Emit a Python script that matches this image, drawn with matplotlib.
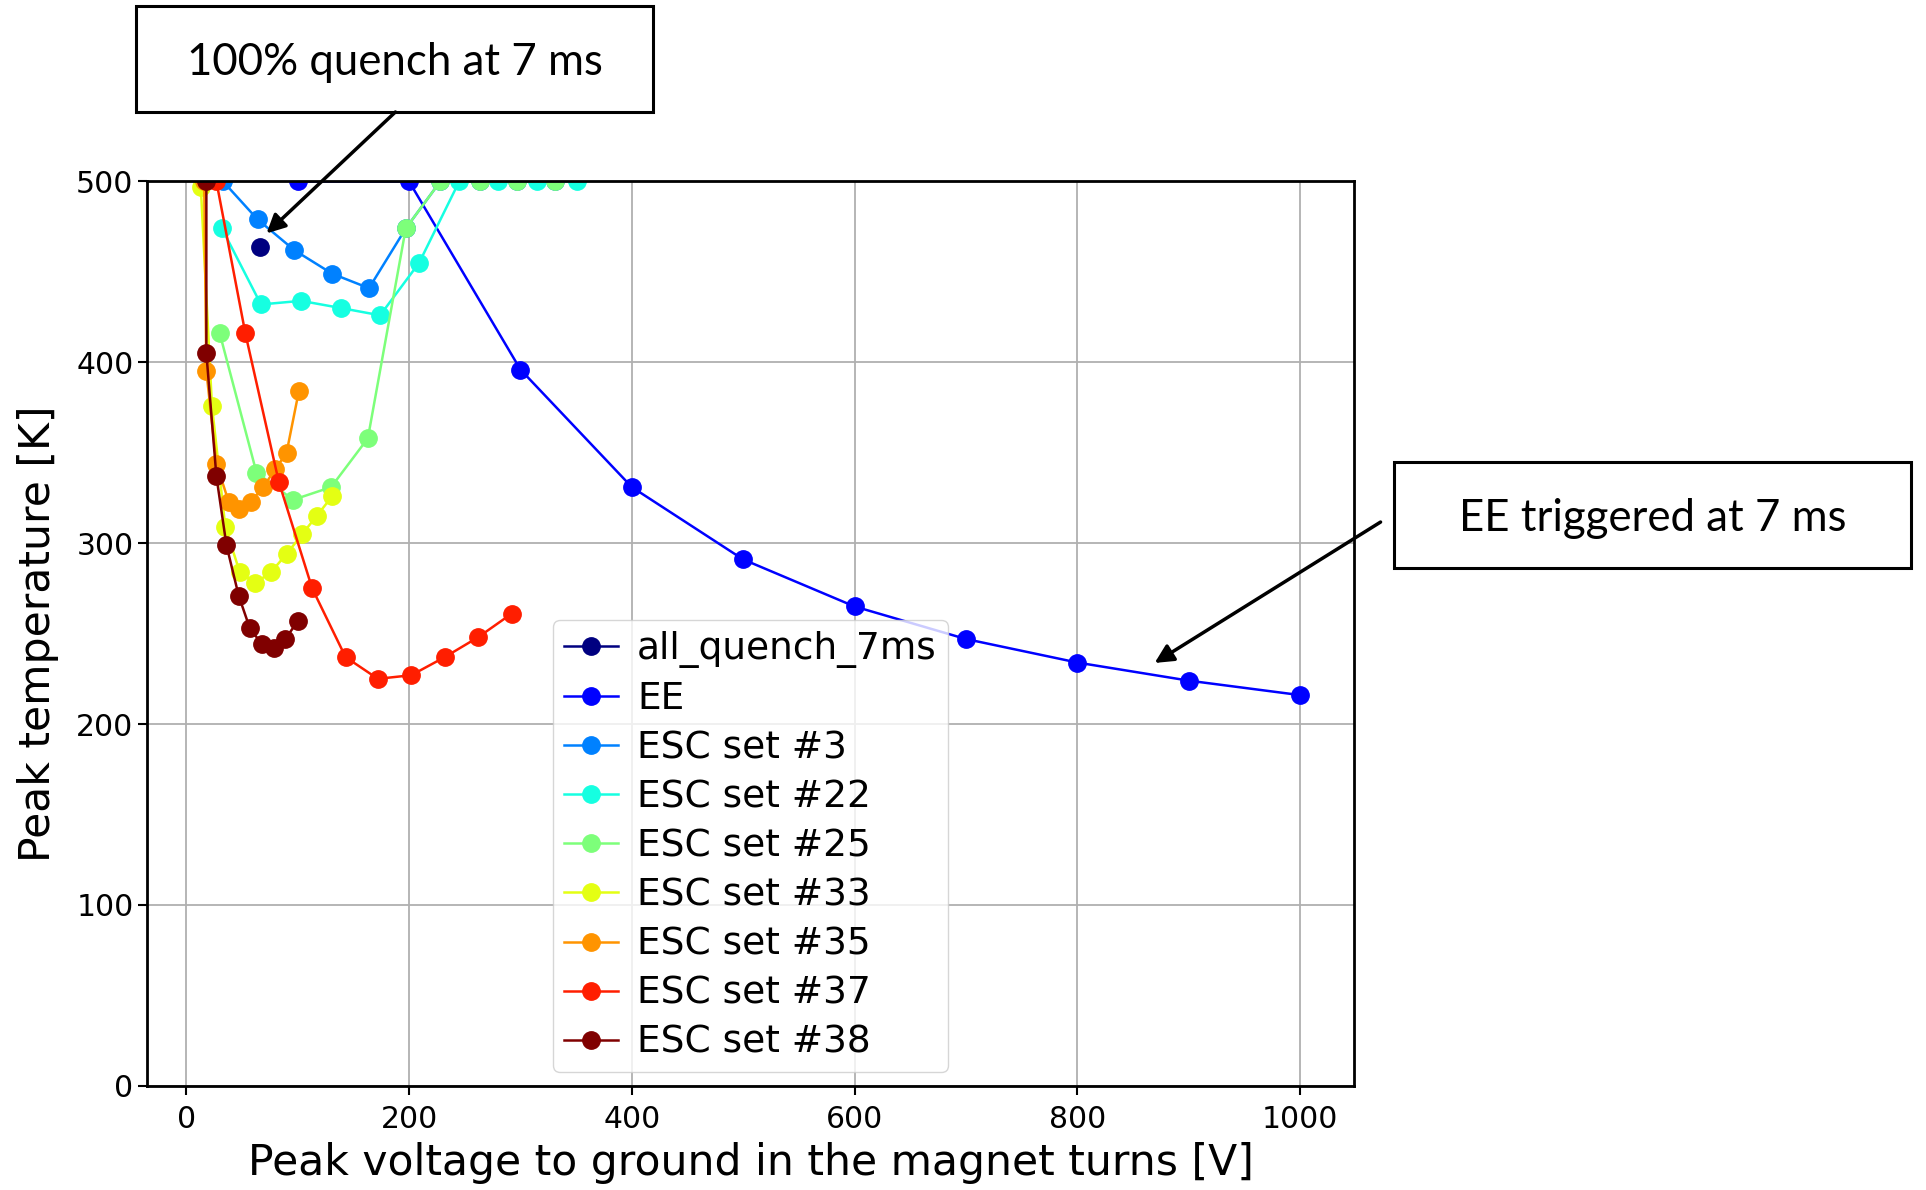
import matplotlib
matplotlib.use('Agg')
import matplotlib.pyplot as plt
import numpy as np
from matplotlib.patches import Rectangle, FancyArrowPatch

# values
quench_x = [66]
quench_y = [464]

ee_x = [100, 200, 300, 400, 500, 600, 700, 800, 900, 1000]
ee_y = [500, 500, 396, 331, 291, 265, 247, 234, 224, 216]

esc3_x = [33, 64, 97, 131, 164, 197, 228, 264, 297, 331]
esc3_y = [500, 479, 462, 449, 441, 474, 500, 500, 500, 500]

esc22_x = [32, 67, 103, 139, 174, 209, 245, 280, 315, 351]
esc22_y = [474, 432, 434, 430, 426, 455, 500, 500, 500, 500]

esc25_x = [30, 63, 96, 130, 163, 197, 228, 264, 297, 331]
esc25_y = [416, 339, 324, 331, 358, 474, 500, 500, 500, 500]

esc33_x = [13, 23, 35, 48, 62, 76, 90, 104, 117, 131]
esc33_y = [497, 376, 309, 284, 278, 284, 294, 305, 315, 326]

esc35_x = [16, 18, 27, 38, 47, 58, 69, 80, 90, 101]
esc35_y = [500, 395, 344, 323, 319, 323, 331, 341, 350, 384]

esc37_x = [27, 53, 83, 113, 143, 172, 202, 232, 262, 292]
esc37_y = [500, 416, 334, 275, 237, 225, 227, 237, 248, 261]

esc38_x = [18, 18, 27, 36, 47, 57, 68, 79, 89, 100]
esc38_y = [500, 405, 337, 299, 271, 253, 244, 242, 247, 257]

labels = ['all_quench_7ms', 'EE', 'ESC set #3', 'ESC set #22', 'ESC set #25',
          'ESC set #33', 'ESC set #35', 'ESC set #37', 'ESC set #38']
xs = [quench_x, ee_x, esc3_x, esc22_x, esc25_x, esc33_x, esc35_x, esc37_x, esc38_x]
ys = [quench_y, ee_y, esc3_y, esc22_y, esc25_y, esc33_y, esc35_y, esc37_y, esc38_y]

colors = plt.cm.jet(np.linspace(0, 1, len(labels)))

fig = plt.figure(figsize=(19.26, 11.9), dpi=100)
ax = fig.add_axes([0.0765, 0.0876, 0.6263, 0.7599])

for x, y, lab, c in zip(xs, ys, labels, colors):
    ax.plot(x, y, '-o', color=c, label=lab, lw=1.8, ms=12.5)

ax.set_xlim(-35, 1048)
ax.set_ylim(0, 500)
ax.set_xticks([0, 200, 400, 600, 800, 1000])
ax.set_yticks([0, 100, 200, 300, 400, 500])
ax.tick_params(labelsize=21.5, length=6.5, width=1.5)
ax.tick_params(axis='x', pad=7)
for s in ax.spines.values():
    s.set_linewidth(2)
ax.grid(True, color='#b0b0b0', lw=1.3)
ax.set_xlabel('Peak voltage to ground in the magnet turns [V]', fontsize=30.6, labelpad=6)
ax.set_ylabel('Peak temperature [K]', fontsize=30.6, labelpad=12)

ax.legend(loc='lower left', bbox_to_anchor=(0.336, 0.015), borderaxespad=0,
          fontsize=27, handlelength=1.45, handletextpad=0.5, borderpad=0.3,
          labelspacing=0.35)

# annotation boxes drawn on the figure
boxes = [((0.0706, 0.9059), '100% quench at 7 ms', (0.2048, 0.9474)),
         ((0.7238, 0.5231), 'EE triggered at 7 ms', (0.858, 0.5644))]
for (bx, by), txt, (tx, ty) in boxes:
    fig.add_artist(Rectangle((bx, by), 0.2684, 0.089, transform=fig.transFigure,
                             fill=False, ec='black', lw=2.2))
    fig.text(tx, ty, txt, ha='center', va='center', fontsize=31.5, family='Lato')

arrows = [((0.2053, 0.9059), (0.1384, 0.8039)),
          ((0.7168, 0.5613), (0.5995, 0.4429))]
for a, b in arrows:
    fig.add_artist(FancyArrowPatch(a, b, transform=fig.transFigure, arrowstyle='-|>',
                                   mutation_scale=28, lw=2.5, color='black',
                                   shrinkA=0, shrinkB=0))

plt.savefig('out.png')
plt.close()
